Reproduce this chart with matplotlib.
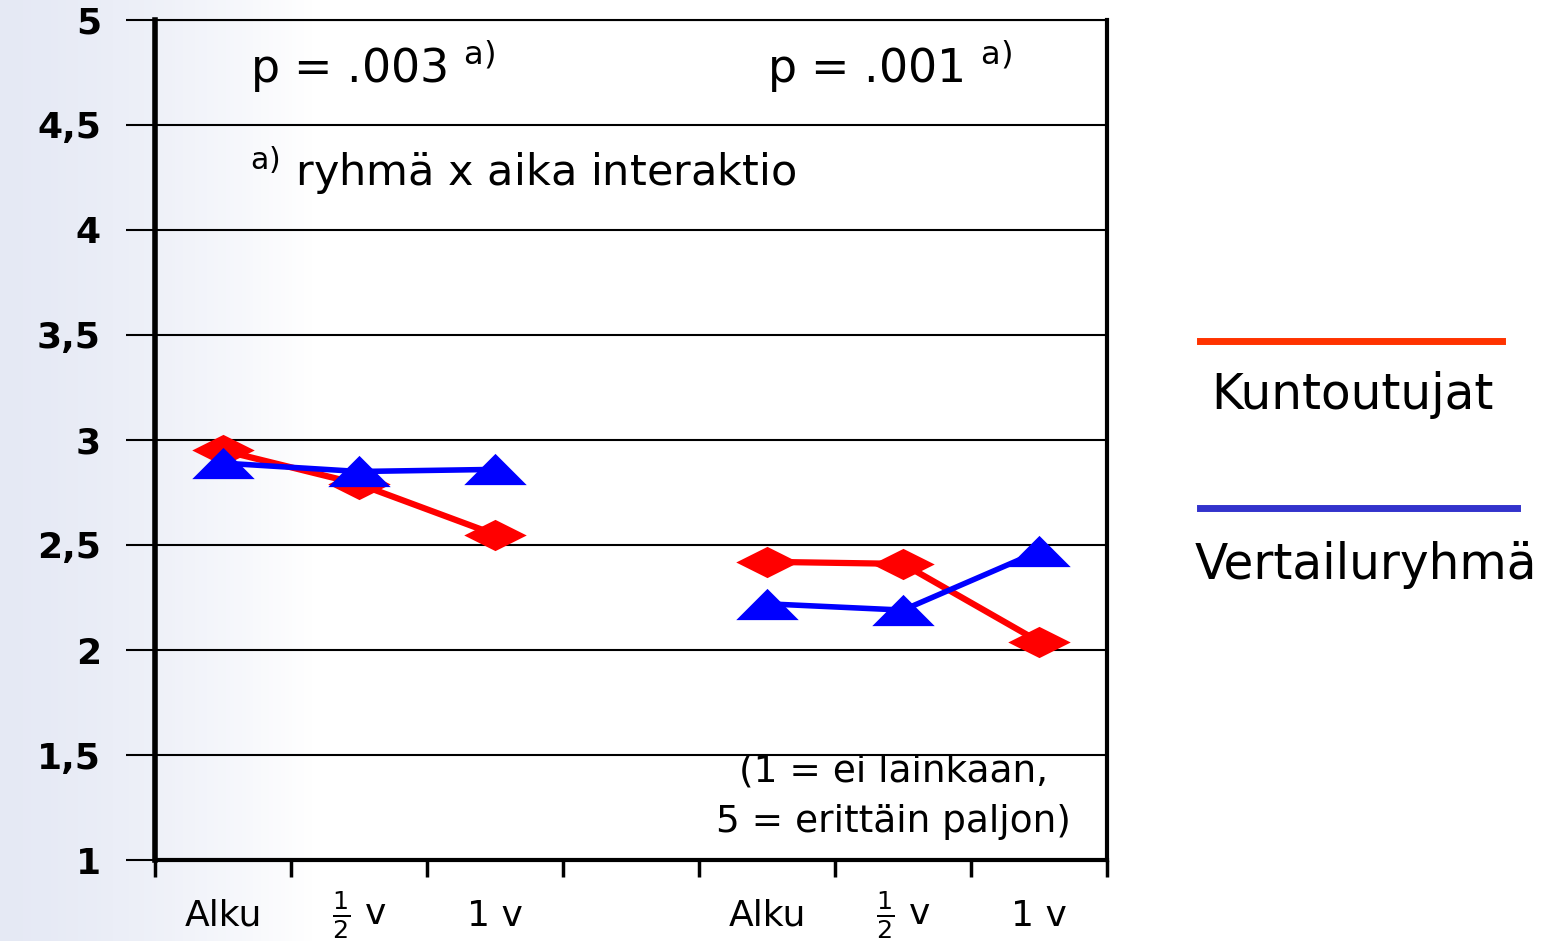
import numpy as np
import matplotlib.pyplot as plt
from matplotlib.path import Path

# Data (two measurement blocks, empty slot between them)
time_labels = ['Alku', r'$\frac{1}{2}$ v', '1 v', '', 'Alku', r'$\frac{1}{2}$ v', '1 v']
kuntoutujat = [2.95, 2.79, 2.55, np.nan, 2.42, 2.41, 2.04]
vertailu = [2.89, 2.85, 2.86, np.nan, 2.22, 2.19, 2.47]
y_ticks = [1, 1.5, 2, 2.5, 3, 3.5, 4, 4.5, 5]
y_tick_labels = ['1', '1,5', '2', '2,5', '3', '3,5', '4', '4,5', '5']
p_texts = ['p = .003', 'p = .001']

# flattened marker shapes
diamond = Path([(-1, 0), (0, 0.5), (1, 0), (0, -0.5), (-1, 0)],
               [Path.MOVETO, Path.LINETO, Path.LINETO, Path.LINETO, Path.CLOSEPOLY])
triangle = Path([(-1, -0.5), (1, -0.5), (0, 0.5), (-1, -0.5)],
                [Path.MOVETO, Path.LINETO, Path.LINETO, Path.CLOSEPOLY])

fig = plt.figure(figsize=(15.6, 9.41), dpi=100)

# light bluish gradient on the left side of the slide
bg = fig.add_axes([0, 0, 1, 1], zorder=-10)
grad = np.linspace(0, 1, 400)
grad = np.clip(grad / 0.2, 0, 1) ** 1.5
img = np.zeros((2, 400, 3))
c0 = np.array([0.90, 0.915, 0.96])
for i in range(3):
    img[:, :, i] = c0[i] + (1 - c0[i]) * grad
bg.imshow(img, aspect='auto', extent=[0, 1, 0, 1])
bg.axis('off')

ax = fig.add_axes([155 / 1560, 1 - 860 / 941, (1107 - 155) / 1560, (860 - 20) / 941])
ax.set_facecolor('none')

x = np.arange(len(time_labels))
ax.plot(x, kuntoutujat, color='#ff0000', lw=4.5, marker=diamond, markersize=45,
        markeredgewidth=0, zorder=3)
ax.plot(x, vertailu, color='#0000ff', lw=4, marker=triangle, markersize=45,
        markeredgewidth=0, zorder=4)

ax.set_xlim(-0.5, len(time_labels) - 0.5)
ax.set_ylim(1, 5)
ax.set_yticks(y_ticks)
ax.set_yticklabels(y_tick_labels, fontsize=26, fontweight='bold')
ax.yaxis.grid(True, color='black', lw=1.5)
ax.tick_params(axis='y', length=21, width=1.5, pad=18)

ax.set_xticks(np.arange(len(time_labels) + 1) - 0.5)
ax.set_xticklabels([])
ax.set_xticks(x, minor=True)
ax.set_xticklabels(time_labels, minor=True, fontsize=26)
for lab in ax.get_xticklabels(minor=True):
    lab.set_verticalalignment('center')
ax.tick_params(axis='x', which='major', length=12, width=2.5, direction='out')
ax.tick_params(axis='x', which='minor', length=0, pad=40)

for side, w in [('left', 4), ('bottom', 3), ('right', 3), ('top', 1.5)]:
    ax.spines[side].set_linewidth(w)
    ax.spines[side].set_color('black')

# annotations
ax.text(0.2, 4.78, p_texts[0] + r' $^{\rm a)}$', fontsize=33, va='center')
ax.text(4.0, 4.78, p_texts[1] + r' $^{\rm a)}$', fontsize=33, va='center')
ax.text(0.2, 4.28, r'$^{\rm a)}$ ryhmä x aika interaktio', fontsize=31, va='center')
ax.text(4.93, 1.42, '(1 = ei lainkaan,', fontsize=27, ha='center', va='center')
ax.text(4.93, 1.18, '5 = erittäin paljon)', fontsize=27, ha='center', va='center')

# legend drawn as slide shapes
fig.add_artist(plt.Line2D([1200 / 1560, 1502 / 1560], [1 - 341 / 941] * 2,
                          color='#ff3300', lw=5))
fig.add_artist(plt.Line2D([1200 / 1560, 1517 / 1560], [1 - 508 / 941] * 2,
                          color='#3333cc', lw=5))
fig.text(1352 / 1560, 1 - 395 / 941, 'Kuntoutujat', fontsize=35, ha='center', va='center')
fig.text(1366 / 1560, 1 - 565 / 941, 'Vertailuryhmä', fontsize=35, ha='center', va='center')

fig.savefig('out.png', dpi=100)
